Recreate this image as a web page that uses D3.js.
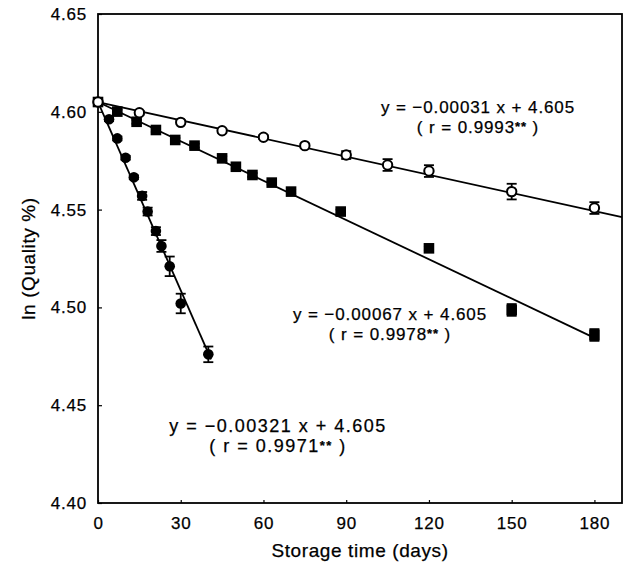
<!DOCTYPE html>
<html>
<head>
<meta charset="utf-8">
<script src="https://cdn.jsdelivr.net/npm/d3@7"></script>
<style>
  body { margin: 0; background: #fff; }
  svg { display: block; }
  text { font-family: "Liberation Sans", Arial, Helvetica, sans-serif; fill: #000; stroke: #000; stroke-width: 0.25px; }
</style>
</head>
<body>
<div id="chart"></div>
<script>

// storage days and ln(quality %) per series
var openDays    = [0, 15, 30, 45, 60, 75, 90, 105, 120, 150, 180];
var openValues  = [4.605, 4.5995, 4.5946, 4.5903, 4.587, 4.5827, 4.5779, 4.5728, 4.5697, 4.5592, 4.5508];
var openErrors  = [0, 0.001, 0.001, 0.001, 0.001, 0.001, 0.002, 0.003, 0.003, 0.004, 0.003];

var squareDays   = [0, 7, 14, 21, 28, 35, 45, 50, 56, 63, 70, 88, 120, 150, 180];
var squareValues = [4.605, 4.6001, 4.5949, 4.5907, 4.5856, 4.5827, 4.5762, 4.5719, 4.5677, 4.5638, 4.5592, 4.549, 4.5302, 4.4987, 4.4859];
var squareErrors = [0, 0.001, 0.001, 0.001, 0.001, 0.001, 0.001, 0.001, 0.001, 0.001, 0.001, 0.001, 0.001, 0.003, 0.003];

var filledDays   = [0, 4, 7, 10, 13, 16, 18, 21, 23, 26, 30, 40];
var filledValues = [4.605, 4.5962, 4.5864, 4.5765, 4.5665, 4.557, 4.549, 4.539, 4.5314, 4.521, 4.502, 4.476];
var filledErrors = [0, 0.001, 0.001, 0.001, 0.001, 0.002, 0.002, 0.002, 0.003, 0.005, 0.005, 0.004];

// regression lines: open, square, filled
var fitSlopes    = [-0.00031, -0.00067, -0.00321];
var fitIntercept = 4.605;
var fitEnds      = [190, 180, 41];
var fitEquations = ['y = \u22120.00031 x + 4.605', 'y = \u22120.00067 x + 4.605', 'y = \u22120.00321 x + 4.605'];
var fitR         = ['0.9993', '0.9978', '0.9971'];

var xTicks = [0, 30, 60, 90, 120, 150, 180];
var yTicks = [4.40, 4.45, 4.50, 4.55, 4.60, 4.65];

var width = 625, height = 566;
var margin = { top: 14, right: 3, bottom: 63, left: 98 };

var svg = d3.select('#chart').append('svg')
    .attr('width', width)
    .attr('height', height);

var x = d3.scaleLinear().domain([0, 190]).range([margin.left, width - margin.right]);
var y = d3.scaleLinear().domain([4.40, 4.65]).range([height - margin.bottom, margin.top]);

/**
 * Axes, ticks point inwards.
 */
svg.append('g')
    .attr('transform', 'translate(0,' + (height - margin.bottom) + ')')
    .call(d3.axisBottom(x).tickValues(xTicks).tickSizeInner(-3).tickSizeOuter(0).tickPadding(14))
    .call(function(g) {
      g.select('.domain').remove();
      g.selectAll('line').attr('stroke-width', 1.2);
      g.selectAll('text').style('font-size', '17px').style('letter-spacing', '0.8px');
    });

svg.append('g')
    .attr('transform', 'translate(' + margin.left + ',0)')
    .call(d3.axisLeft(y).tickValues(yTicks).tickFormat(d3.format('.2f')).tickSizeInner(-4).tickSizeOuter(0).tickPadding(11))
    .call(function(g) {
      g.select('.domain').remove();
      g.selectAll('line').attr('stroke-width', 1.2);
      g.selectAll('text').style('font-size', '17px').style('letter-spacing', '0.8px');
    });

// frame
svg.append('rect')
    .attr('x', x(0))
    .attr('y', y(4.65))
    .attr('width', x(190) - x(0))
    .attr('height', y(4.40) - y(4.65))
    .attr('fill', 'none')
    .attr('stroke', '#000')
    .attr('stroke-width', 1.8);

// axis titles
svg.append('text')
    .attr('x', (x(0) + x(190)) / 2)
    .attr('y', 557)
    .attr('text-anchor', 'middle')
    .style('font-size', '19px')
    .style('letter-spacing', '0.6px')
    .text('Storage time (days)');

svg.append('text')
    .attr('transform', 'translate(35,' + ((y(4.40) + y(4.65)) / 2) + ') rotate(-90)')
    .attr('text-anchor', 'middle')
    .style('font-size', '19px')
    .style('letter-spacing', '0.6px')
    .text('ln (Quality %)');

/**
 * Regression lines.
 */
fitSlopes.forEach(function(s, i) {
  svg.append('line')
      .attr('x1', x(0))
      .attr('y1', y(fitIntercept))
      .attr('x2', x(fitEnds[i]))
      .attr('y2', y(fitIntercept + s * fitEnds[i]))
      .attr('stroke', '#000')
      .attr('stroke-width', 1.8);
});

/**
 * Error bars with caps.
 */
function errorBars(days, values, errors) {
  var pts = days.map(function(d, i) { return { x: d, y: values[i], e: errors[i] }; })
      .filter(function(p) { return p.e > 0; });
  var g = svg.append('g').attr('stroke', '#000').attr('stroke-width', 1.8);

  g.selectAll('line.bar').data(pts).enter().append('line')
      .attr('x1', function(d) { return x(d.x); })
      .attr('x2', function(d) { return x(d.x); })
      .attr('y1', function(d) { return y(d.y - d.e); })
      .attr('y2', function(d) { return y(d.y + d.e); });

  [-1, 1].forEach(function(k) {
    g.selectAll(null).data(pts).enter().append('line')
        .attr('x1', function(d) { return x(d.x) - 5; })
        .attr('x2', function(d) { return x(d.x) + 5; })
        .attr('y1', function(d) { return y(d.y + k * d.e); })
        .attr('y2', function(d) { return y(d.y + k * d.e); });
  });
}

errorBars(filledDays, filledValues, filledErrors);
errorBars(squareDays, squareValues, squareErrors);
errorBars(openDays, openValues, openErrors);

// filled circles
svg.append('g').selectAll('circle')
    .data(filledDays)
    .enter().append('circle')
      .attr('cx', function(d) { return x(d); })
      .attr('cy', function(d, i) { return y(filledValues[i]); })
      .attr('r', 5.3)
      .attr('fill', '#000');

// filled squares
svg.append('g').selectAll('rect')
    .data(squareDays)
    .enter().append('rect')
      .attr('x', function(d) { return x(d) - 5.3; })
      .attr('y', function(d, i) { return y(squareValues[i]) - 5.3; })
      .attr('width', 10.6)
      .attr('height', 10.6)
      .attr('fill', '#000');

// open circles
svg.append('g').selectAll('circle')
    .data(openDays)
    .enter().append('circle')
      .attr('cx', function(d) { return x(d); })
      .attr('cy', function(d, i) { return y(openValues[i]); })
      .attr('r', 4.7)
      .attr('fill', '#fff')
      .attr('stroke', '#000')
      .attr('stroke-width', 2);

/**
 * Equation labels, two lines each.
 */
var labelPos = [[478, 113], [390, 320], [278, 432]];
var labelSize = [17, 17, 18];
var labelSpacing = [0.9, 0.9, 1.5];

fitEquations.forEach(function(eq, i) {
  var g = svg.append('g')
      .attr('text-anchor', 'middle')
      .style('font-size', labelSize[i] + 'px')
      .style('letter-spacing', labelSpacing[i] + 'px');

  g.append('text')
      .attr('x', labelPos[i][0])
      .attr('y', labelPos[i][1])
      .text(eq);

  var t = g.append('text')
      .attr('x', labelPos[i][0])
      .attr('y', labelPos[i][1] + 20);
  t.append('tspan').text('( r = ' + fitR[i]);
  t.append('tspan').attr('dy', -2).style('font-size', '13px').style('font-weight', 'bold').text('**');
  t.append('tspan').attr('dy', 2).text(' )');
});

</script>
</body>
</html>
